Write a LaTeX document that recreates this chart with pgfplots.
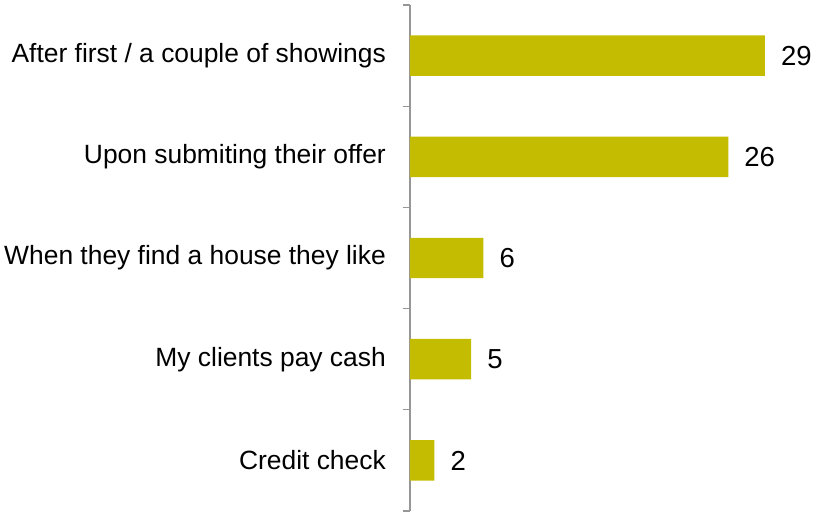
\documentclass[border=0pt]{standalone}
\usepackage{pgfplots}
\pgfplotsset{compat=1.18}
\usepackage{fontspec}
\setmainfont{Liberation Sans}
\definecolor{barolive}{RGB}{196,188,0}
\definecolor{axisgray}{RGB}{150,150,150}
\begin{document}
\begin{tikzpicture}
\begin{axis}[
  name=ax,
  scale only axis,
  width=407bp, height=506bp,
  xbar, bar width=0.4,
  xmin=0, xmax=33.25,
  ymin=-0.5, ymax=4.5,
  axis x line=none,
  axis y line*=left,
  axis line style={axisgray, line width=1.2bp},
  ytick={0,...,4},
  yticklabels={Credit check, My clients pay cash, When they find a house they like, Upon submiting their offer, After first / a couple of showings},
  minor ytick={-0.5,0.5,...,4.5},
  major tick length=0pt,
  minor tick length=7bp,
  tick align=outside,
  tick style={axisgray, line width=1.2bp},
  yticklabel style={font=\fontsize{26.4bp}{30bp}\selectfont, anchor=east, inner sep=0pt, xshift=-24bp},
  /pgf/number format/assume math mode=true,
  nodes near coords,
  nodes near coords style={font=\fontsize{27.5bp}{32bp}\selectfont, anchor=west, inner sep=0pt, xshift=16bp, black},
  clip=false,
]
\addplot[fill=barolive, draw=none] coordinates {(2,0) (5,1) (6,2) (26,3) (29,4)};
\end{axis}
\path (ax.north west) ++(-410bp,5bp);
\path (ax.south west) ++(0,-4bp);
\path (ax.south east) ++(0,-4bp);
\end{tikzpicture}
\end{document}
